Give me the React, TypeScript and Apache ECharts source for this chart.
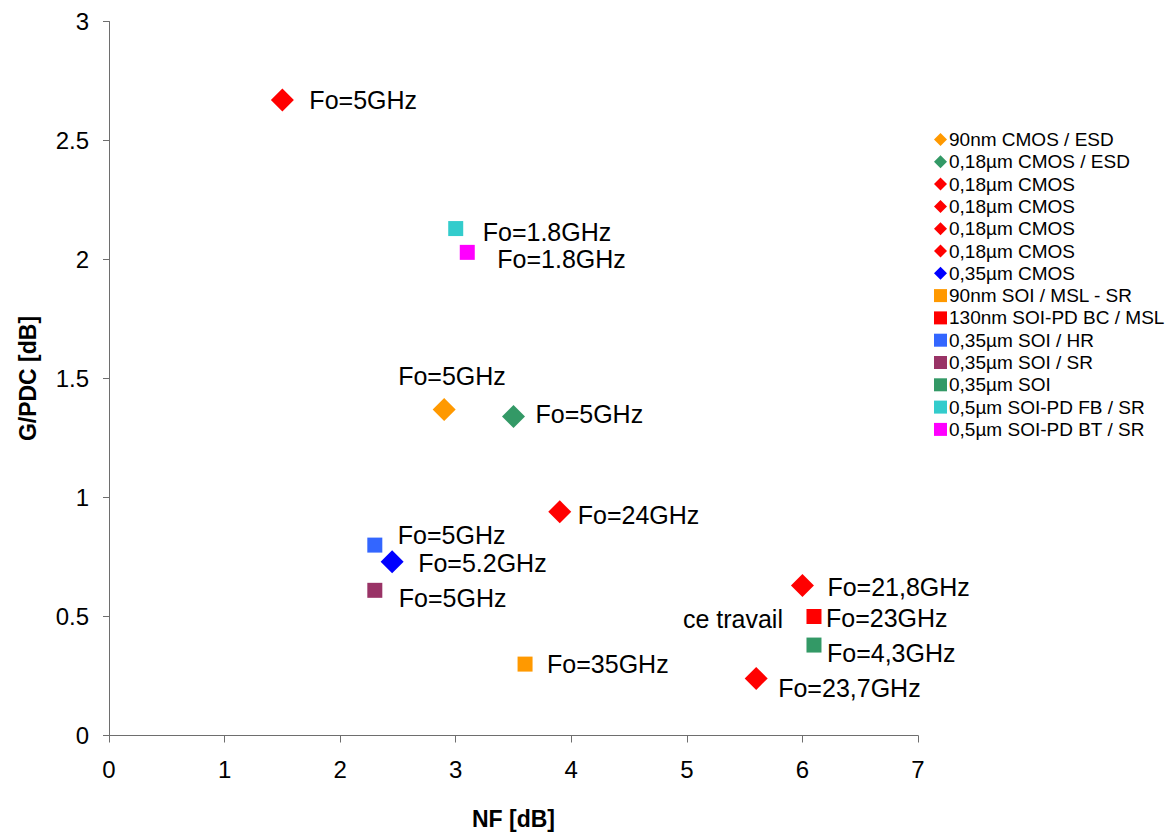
import React, { useEffect, useRef } from "react";
import * as echarts from "echarts";

// Series (legend) names, in legend order
const seriesNames = [
  "90nm CMOS / ESD",
  "0,18µm CMOS / ESD",
  "0,18µm CMOS",
  "0,18µm CMOS ",
  "0,18µm CMOS  ",
  "0,18µm CMOS   ",
  "0,35µm CMOS",
  "90nm SOI / MSL - SR",
  "130nm SOI-PD BC / MSL",
  "0,35µm SOI / HR",
  "0,35µm SOI / SR",
  "0,35µm SOI",
  "0,5µm SOI-PD FB / SR",
  "0,5µm SOI-PD BT / SR",
];

// NF [dB] values (x)
const nfValues = [2.9, 3.5, 1.5, 3.9, 6.0, 5.6, 2.45, 3.6, 6.1, 2.3, 2.3, 6.1, 3.0, 3.1];
// G/PDC [dB] values (y)
const gpdcValues = [1.37, 1.34, 2.67, 0.94, 0.63, 0.24, 0.73, 0.3, 0.5, 0.8, 0.61, 0.38, 2.13, 2.03];
// Point labels
const freqLabels = [
  "Fo=5GHz",
  "Fo=5GHz",
  "Fo=5GHz",
  "Fo=24GHz",
  "Fo=21,8GHz",
  "Fo=23,7GHz",
  "Fo=5.2GHz",
  "Fo=35GHz",
  "Fo=23GHz",
  "Fo=5GHz",
  "Fo=5GHz",
  "Fo=4,3GHz",
  "Fo=1.8GHz",
  "Fo=1.8GHz",
];
const thisWorkLabel = "ce travail";
const thisWorkIndex = 8;

const xTicks = [0, 1, 2, 3, 4, 5, 6, 7];
const yTicks = [0, 0.5, 1, 1.5, 2, 2.5, 3];

// Styles
const colors = [
  "#ff9900", "#339966", "#ff0000", "#ff0000", "#ff0000", "#ff0000", "#0000ff",
  "#ff9900", "#ff0000", "#3366ff", "#993366", "#339966", "#33cccc", "#ff00ff",
];
const symbols = [
  "diamond", "diamond", "diamond", "diamond", "diamond", "diamond", "diamond",
  "rect", "rect", "rect", "rect", "rect", "rect", "rect",
];
// label offsets: [dx from marker centre to text left edge, dy of text centre]
const labelOffsets: [number, number][] = [
  [-46, -33],
  [22, -3],
  [27, 0],
  [18, 3],
  [25, 1],
  [22, 10],
  [26, 1],
  [22, 0],
  [12, 1],
  [23, -10],
  [24, 8],
  [13, 8],
  [27, 3],
  [30, 7],
];

export default function App() {
  const ref = useRef<HTMLDivElement>(null);
  useEffect(() => {
    if (!ref.current) return;
    const chart = echarts.init(ref.current, undefined, { renderer: "svg" });
    const font = "Arial, 'Liberation Sans', sans-serif";
    const axisColor = "#6e6e6e";
    const series: any[] = seriesNames.map((name, i) => {
      const isDiamond = symbols[i] === "diamond";
      const size = isDiamond ? 23 : 15;
      const s: any = {
        name,
        type: "scatter",
        symbol: symbols[i],
        symbolSize: size,
        itemStyle: { color: colors[i], opacity: 1 },
        data: [[nfValues[i], gpdcValues[i]]],
        label: {
          show: true,
          formatter: freqLabels[i],
          position: "right",
          distance: 0,
          offset: [labelOffsets[i][0] - size / 2, labelOffsets[i][1]],
          color: "#000",
          fontSize: 25,
          fontFamily: font,
          align: "left",
          verticalAlign: "middle",
        },
        emphasis: { disabled: true },
      };
      if (i === thisWorkIndex) {
        s.markPoint = {
          symbol: "circle",
          symbolSize: 0,
          silent: true,
          data: [{ coord: [nfValues[i], gpdcValues[i]], value: 0 }],
          label: {
            show: true,
            formatter: thisWorkLabel,
            position: "left",
            distance: 31,
            color: "#000",
            fontSize: 25,
            fontFamily: font,
            offset: [0, 2],
          },
        };
      }
      return s;
    });
    chart.setOption({
      animation: false,
      backgroundColor: "#ffffff",
      textStyle: { fontFamily: font },
      grid: { left: 109, right: 251, top: 21.5, bottom: 102.5, containLabel: false },
      legend: {
        orient: "vertical",
        left: 929,
        top: 125,
        itemWidth: 13,
        itemHeight: 13,
        itemGap: 3.3,
        data: seriesNames.map((n, i) => ({ name: n, icon: symbols[i] })),
        textStyle: { fontSize: 19, color: "#000", fontFamily: font, padding: [0, 0, 0, -3] },
        selectedMode: false,
      },
      xAxis: {
        type: "value",
        min: xTicks[0],
        max: xTicks[xTicks.length - 1],
        interval: 1,
        name: "NF [dB]",
        nameLocation: "middle",
        nameGap: 72,
        nameTextStyle: { fontSize: 23, fontWeight: "bold", color: "#000", fontFamily: font },
        axisLine: { show: true, onZero: false, lineStyle: { color: axisColor, width: 1 } },
        axisTick: { show: true, length: 7, inside: false, lineStyle: { color: axisColor } },
        axisLabel: { fontSize: 24, color: "#000", margin: 22, fontFamily: font },
        splitLine: { show: false },
      },
      yAxis: {
        type: "value",
        min: yTicks[0],
        max: yTicks[yTicks.length - 1],
        interval: 0.5,
        name: "G/PDC [dB]",
        nameLocation: "middle",
        nameGap: 70,
        nameTextStyle: { fontSize: 23, fontWeight: "bold", color: "#000", fontFamily: font },
        axisLine: { show: true, onZero: false, lineStyle: { color: axisColor, width: 1 } },
        axisTick: { show: true, length: 6, inside: false, lineStyle: { color: axisColor } },
        axisLabel: { fontSize: 24, color: "#000", margin: 20, fontFamily: font },
        splitLine: { show: false },
      },
      series,
    });
    return () => chart.dispose();
  }, []);
  return <div ref={ref} style={{ width: 1169, height: 838, position: "absolute", left: 0, top: 0 }} />;
}
